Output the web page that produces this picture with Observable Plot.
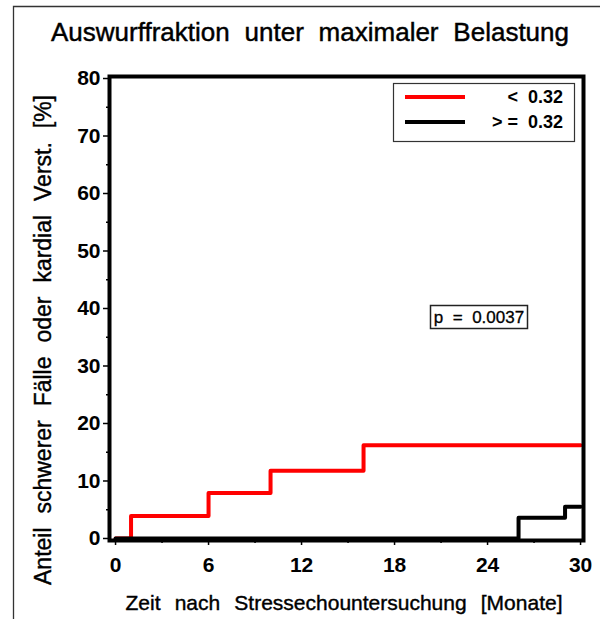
<!DOCTYPE html>
<html><head><meta charset="utf-8">
<script src="https://cdn.jsdelivr.net/npm/d3@7"></script>
<script src="https://cdn.jsdelivr.net/npm/@observablehq/plot@0.6"></script>
<style>
body{margin:0;background:#fff}
svg{font-family:"Liberation Sans",Arial,sans-serif}
</style>
</head><body><div id="chart"></div>
<script>
const title = "Auswurffraktion unter maximaler Belastung";
const xLabel = "Zeit nach Stressechountersuchung [Monate]";
const yLabel = "Anteil schwerer Fälle oder kardial Verst. [%]";
const xTicks = [0, 6, 12, 18, 24, 30];
const xMinorTicks = [3, 9, 15, 21, 27];
const yTicks = [0, 10, 20, 30, 40, 50, 60, 70, 80];
const yMinorTicks = [5, 15, 25, 35, 45, 55, 65, 75];
const seriesNames = ["<  0.32", "> =  0.32"];
const seriesColors = ["#ff0000", "#000000"];
const redTimes = [0, 1, 6, 10, 16, 30];
const redValues = [0, 3.9, 7.9, 11.8, 16.2, 16.2];
const blackTimes = [0, 26, 29, 30];
const blackValues = [0, 3.6, 5.5, 5.5];
const pValueText = "p  =  0.0037";

const redData = redTimes.map((t, i) => ({t, v: redValues[i]}));
const blackData = blackTimes.map((t, i) => ({t, v: blackValues[i]}));

const plot = Plot.plot({
  width: 608, height: 619,
  marginLeft: 109, marginRight: 25, marginTop: 76, marginBottom: 79,
  x: {domain: [-0.39, 30.19]},
  y: {domain: [-0.35, 80.35]},
  style: {fontFamily: '"Liberation Sans", Arial, sans-serif', background: "white", color: "black"},
  marks: [
    Plot.axisY({ticks: yTicks, tickSize: 6, tickPadding: 3, fontSize: 21, fontWeight: "bold", strokeWidth: 1.5, label: null}),
    Plot.axisY({ticks: yMinorTicks, tickSize: 3, tickFormat: () => "", strokeWidth: 1.5, label: null}),
    Plot.axisX({ticks: xTicks, tickSize: 5, tickPadding: 12, fontSize: 21, fontWeight: "bold", strokeWidth: 1.5, label: null}),
    Plot.axisX({ticks: xMinorTicks, tickSize: 3, tickFormat: () => "", strokeWidth: 1.5, label: null}),
    Plot.line(redData, {x: "t", y: "v", curve: "step-after", stroke: seriesColors[0], strokeWidth: 4}),
    Plot.line(blackData, {x: "t", y: "v", curve: "step-after", stroke: seriesColors[1], strokeWidth: 4}),
    Plot.frame({stroke: "black", strokeWidth: 4})
  ]
});
document.getElementById("chart").appendChild(plot);

const svg = d3.select(plot);
const ns = svg.append("g");
function fit(sel, target) {
  const node = sel.node();
  const w = node.getComputedTextLength();
  const spaces = (sel.text().match(/ /g) || []).length;
  if (spaces) sel.attr("word-spacing", (target - w) / spaces);
  return sel;
}
// outer page frame (top and left)
ns.append("path").attr("d", "M13.5,619 V6.5 H600").attr("fill", "none").attr("stroke", "#333").attr("stroke-width", 1.3);
// title
fit(ns.append("text").attr("x", 310).attr("y", 41).attr("text-anchor", "middle")
  .attr("font-size", 26).attr("stroke", "black").attr("stroke-width", 0.45).text(title), 518);
// axis labels
fit(ns.append("text").attr("x", 344).attr("y", 610).attr("text-anchor", "middle")
  .attr("font-size", 21).attr("stroke", "black").attr("stroke-width", 0.4).text(xLabel), 437);
fit(ns.append("text").attr("transform", "translate(51,340) rotate(-90)").attr("text-anchor", "middle")
  .attr("font-size", 23).attr("stroke", "black").attr("stroke-width", 0.4).text(yLabel), 490);
// legend
const lg = ns.append("g");
lg.append("rect").attr("x", 393.5).attr("y", 83.5).attr("width", 181).attr("height", 58)
  .attr("fill", "white").attr("stroke", "#333").attr("stroke-width", 1.2);
seriesNames.forEach((name, i) => {
  const yy = 97 + i * 25;
  lg.append("line").attr("x1", 405).attr("x2", 465).attr("y1", yy).attr("y2", yy)
    .attr("stroke", seriesColors[i]).attr("stroke-width", 4);
  lg.append("text").attr("x", 563).attr("y", yy).attr("dy", "0.35em").attr("text-anchor", "end")
    .attr("font-size", 18).attr("font-weight", "bold").style("white-space", "pre").text(name);
});
// p value box
const pg = ns.append("g");
pg.append("rect").attr("x", 430.5).attr("y", 305.5).attr("width", 97).attr("height", 23)
  .attr("fill", "white").attr("stroke", "#222").attr("stroke-width", 1.5);
pg.append("text").attr("x", 479).attr("y", 317).attr("dy", "0.35em").attr("text-anchor", "middle")
  .attr("font-size", 17).attr("stroke", "black").attr("stroke-width", 0.3).style("white-space", "pre").text(pValueText);
</script>
</body></html>
